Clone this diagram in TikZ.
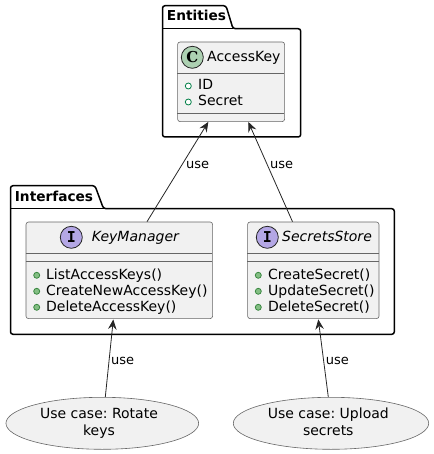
\documentclass[tikz,border=0pt]{standalone}
\usepackage{fontspec}
\setmainfont{DejaVu Sans}
\newfontfamily\glyphfont{DejaVu Sans Mono}
\newfontfamily\serifglyph{DejaVu Serif}
\usetikzlibrary{arrows.meta,calc,shapes.geometric}
\tikzset{
  x=1pt,y=-1pt,
  pkg/.style={draw=black,line width=1.5pt,rounded corners=2.5pt,line join=round},
  pkgtitle/.style={anchor=base west,inner sep=0pt,font=\fontsize{13.7}{16}\selectfont\bfseries},
  box/.style={draw=black!60,fill=boxfill,line width=0.6pt,rounded corners=2.5pt,inner sep=0pt,anchor=north west},
  sep/.style={draw=black!60,line width=0.6pt},
  txt/.style={anchor=base west,inner sep=0pt,font=\fontsize{14}{16}\selectfont,text=black},
  itxt/.style={txt,font=\fontsize{14}{16}\selectfont\itshape},
  lbl/.style={anchor=base west,inner sep=0pt,font=\fontsize{13}{15}\selectfont},
  badge/.style={circle,draw=black!85,line width=0.8pt,minimum size=22pt,inner sep=0pt,font=\fontsize{15}{15}\selectfont\glyphfont\bfseries},
  field/.style={circle,draw=fieldgreen,line width=0.8pt,fill=white,minimum size=6pt,inner sep=0pt},
  method/.style={circle,draw=methodgreen,line width=0.8pt,fill=methodfill,minimum size=6pt,inner sep=0pt},
  usecase/.style={ellipse,draw=black!60,fill=boxfill,line width=0.6pt,inner sep=0pt},
  uctxt/.style={anchor=base,inner sep=0pt,font=\fontsize{14}{17}\selectfont\frenchspacing},
  rel/.style={draw=black!85,line width=0.8pt,-{Stealth[length=10pt,width=8.5pt,inset=3.5pt]}},
}
\definecolor{boxfill}{HTML}{F1F1F1}
\definecolor{fieldgreen}{HTML}{038048}
\definecolor{methodgreen}{HTML}{38873F}
\definecolor{methodfill}{HTML}{84BE84}
\definecolor{cgreen}{HTML}{ADD1B2}
\definecolor{ipurple}{HTML}{B4A7E5}
\begin{document}
\begin{tikzpicture}
\useasboundingbox (0,0) rectangle (433,454);
% packages
\draw[pkg] (162.5,28.7) -- (162.5,5.7) -- (226,5.7) -- (233,28.7) -- (300.7,28.7) -- (300.7,137) -- (162.5,137) -- cycle;
\draw[pkg,rounded corners=0pt,line width=1pt] (162.5,28.7) -- (233,28.7);
\node[pkgtitle] (enttitle) at (166.7,20.7) {Entities};
\draw[pkg] (10.5,208.7) -- (10.5,185.7) -- (95,185.7) -- (103.5,208.7) -- (394.3,208.7) -- (394.3,334.3) -- (10.5,334.3) -- cycle;
\draw[pkg,rounded corners=0pt,line width=1pt] (10.5,208.7) -- (103.5,208.7);
\node[pkgtitle] (inttitle) at (14.7,201.7) {Interfaces};
% AccessKey
\node[box,minimum width=107pt,minimum height=79.6pt] (ak) at (177.3,41.7) {};
\draw[sep] (177.3,73.3) -- (284.3,73.3);
\draw[sep] (177.3,113.3) -- (284.3,113.3);
\node[badge,fill=cgreen,font=\fontsize{15}{15}\selectfont\serifglyph\bfseries] (akbadge) at (192.3,57.3) {C};
\node[txt] (aktitle) at (207,61.7) {AccessKey};
\node[field] (akf1) at (188.3,86) {};
\node[txt] (akt1) at (198,90) {ID};
\node[field] (akf2) at (188.3,102) {};
\node[txt] (akt2) at (198,106) {Secret};
% KeyManager
\node[box,minimum width=186.6pt,minimum height=96.6pt] (km) at (25.7,221.7) {};
\draw[sep] (25.7,253.3) -- (212.3,253.3);
\draw[sep] (25.7,261.3) -- (212.3,261.3);
\node[badge,fill=ipurple] (kmbadge) at (71.3,237.3) {I};
\node[itxt] (kmtitle) at (91.7,241.7) {KeyManager};
\node[method] (kmm1) at (36.7,275.3) {};
\node[txt] (kmt1) at (46,279.5) {ListAccessKeys()};
\node[method] (kmm2) at (36.7,291.3) {};
\node[txt] (kmt2) at (46,295.5) {CreateNewAccessKey()};
\node[method] (kmm3) at (36.7,307.3) {};
\node[txt] (kmt3) at (46,311.5) {DeleteAccessKey()};
% SecretsStore
\node[box,minimum width=131.4pt,minimum height=96.6pt] (ss) at (247.3,221.7) {};
\draw[sep] (247.3,253.3) -- (378.7,253.3);
\draw[sep] (247.3,261.3) -- (378.7,261.3);
\node[badge,fill=ipurple] (ssbadge) at (267.3,237.3) {I};
\node[itxt] (sstitle) at (282,241.7) {SecretsStore};
\node[method] (ssm1) at (258.3,275.3) {};
\node[txt] (sst1) at (268,279.5) {CreateSecret()};
\node[method] (ssm2) at (258.3,291.3) {};
\node[txt] (sst2) at (268,295.5) {UpdateSecret()};
\node[method] (ssm3) at (258.3,307.3) {};
\node[txt] (sst3) at (268,311.5) {DeleteSecret()};
% use cases
\node[usecase,minimum width=192.7pt,minimum height=52pt] (uc1) at (102.3,423.3) {};
\node[uctxt] (uc1a) at (99,418) {Use case: Rotate};
\node[uctxt] (uc1b) at (99,435.5) {keys};
\node[usecase,minimum width=195.4pt,minimum height=52pt] (uc2) at (331,423.3) {};
\node[uctxt] (uc2a) at (328.3,418) {Use case: Upload};
\node[uctxt] (uc2b) at (328.3,435.5) {secrets};
% relations
\draw[rel] ($(km.north west)+(121.3,0)$) -- ($(ak.south west)+(31,0)$);
\draw[rel] ($(ss.north west)+(45.2,0)$) -- ($(ak.south west)+(71,0)$);
\draw[rel] ($(uc1.north)+(3,0)$) -- ($(km.south west)+(87.6,0.5)$);
\draw[rel] ($(uc2.north)+(-2.7,0)$) -- ($(ss.south west)+(71,0.5)$);
\node[lbl] (lb1) at (186,168) {use};
\node[lbl] (lb2) at (270,168) {use};
\node[lbl] (lb3) at (111,364) {use};
\node[lbl] (lb4) at (325.7,364) {use};
\end{tikzpicture}
\end{document}
